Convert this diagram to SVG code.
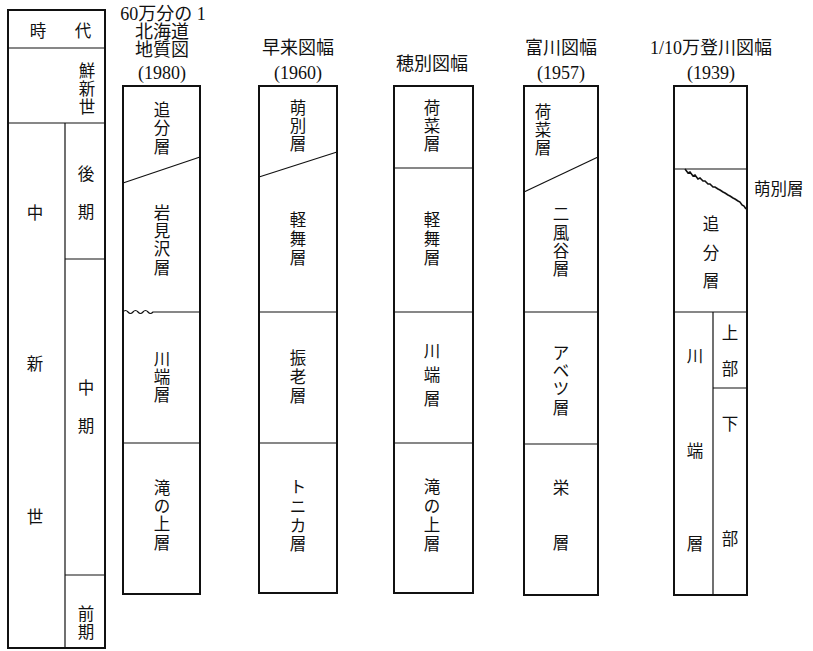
<svg xmlns="http://www.w3.org/2000/svg" width="813" height="651" viewBox="0 0 813 651">
<style>
.box{fill:none;stroke:#111;stroke-width:2}
.ln{fill:none;stroke:#111;stroke-width:1.2}
.jag{fill:none;stroke:#111;stroke-width:1.6}
.t{font-family:"Noto Sans CJK JP","Noto Sans CJK SC",sans-serif;font-size:16.5px;fill:#111;text-anchor:middle;dominant-baseline:central}
.h{font-family:"Liberation Serif","Noto Sans CJK JP",serif;font-size:18px;fill:#111;text-anchor:middle;dominant-baseline:central}
</style>
<rect width="813" height="651" fill="#fff"/>

<g id="era">
<rect class="box" x="8" y="10" width="97" height="638"/>
<line class="ln" x1="8" y1="48" x2="105" y2="48"/>
<line class="ln" x1="8" y1="123" x2="105" y2="123"/>
<line class="ln" x1="65" y1="123" x2="65" y2="648"/>
<line class="ln" x1="65" y1="259" x2="105" y2="259"/>
<line class="ln" x1="65" y1="575" x2="105" y2="575"/>
<text class="t"><tspan x="38" y="30">時</tspan><tspan x="83" y="30">代</tspan></text>
<text class="t"><tspan x="87" y="70">鮮</tspan><tspan x="87" y="88">新</tspan><tspan x="87" y="106">世</tspan></text>
<text class="t"><tspan x="86" y="173">後</tspan><tspan x="86" y="211">期</tspan></text>
<text class="t"><tspan x="35" y="212">中</tspan><tspan x="35" y="363">新</tspan><tspan x="35" y="516">世</tspan></text>
<text class="t"><tspan x="86" y="387">中</tspan><tspan x="86" y="425">期</tspan></text>
<text class="t"><tspan x="86" y="613">前</tspan><tspan x="86" y="631">期</tspan></text>
</g>

<g id="col1">
<text class="h"><tspan x="163" y="14">60万分の 1</tspan><tspan x="162" y="32">北海道</tspan><tspan x="162" y="50">地質図</tspan><tspan x="162" y="73">(1980)</tspan></text>
<rect class="box" x="123" y="86" width="77" height="508"/>
<line class="ln" x1="123" y1="183" x2="200" y2="157"/>
<path class="ln" d="M123,312 q2.5,-3 5,0 t5,0 t5,0 t5,0 t5,0 t5,0 L200,312"/>
<line class="ln" x1="123" y1="443" x2="200" y2="443"/>
<text class="t"><tspan x="162" y="109">追</tspan><tspan x="162" y="127">分</tspan><tspan x="162" y="146">層</tspan></text>
<text class="t"><tspan x="162" y="212">岩</tspan><tspan x="162" y="230">見</tspan><tspan x="162" y="248">沢</tspan><tspan x="162" y="267">層</tspan></text>
<text class="t"><tspan x="162" y="358">川</tspan><tspan x="162" y="376">端</tspan><tspan x="162" y="394">層</tspan></text>
<text class="t"><tspan x="162" y="487">滝</tspan><tspan x="162" y="505">の</tspan><tspan x="162" y="523">上</tspan><tspan x="162" y="542">層</tspan></text>
</g>

<g id="col2">
<text class="h"><tspan x="298" y="48">早来図幅</tspan><tspan x="298" y="73">(1960)</tspan></text>
<rect class="box" x="259" y="86" width="78" height="507"/>
<line class="ln" x1="259" y1="177" x2="337" y2="152"/>
<line class="ln" x1="259" y1="312" x2="337" y2="312"/>
<line class="ln" x1="259" y1="443" x2="337" y2="443"/>
<text class="t"><tspan x="298" y="107">萌</tspan><tspan x="298" y="125">別</tspan><tspan x="298" y="143">層</tspan></text>
<text class="t"><tspan x="298" y="219">軽</tspan><tspan x="298" y="238">舞</tspan><tspan x="298" y="257">層</tspan></text>
<text class="t"><tspan x="298" y="357">振</tspan><tspan x="298" y="376">老</tspan><tspan x="298" y="395">層</tspan></text>
<text class="t"><tspan x="298" y="486">ト</tspan><tspan x="298" y="506">ニ</tspan><tspan x="298" y="525">カ</tspan><tspan x="298" y="543">層</tspan></text>
</g>

<g id="col3">
<text class="h"><tspan x="432" y="64">穂別図幅</tspan></text>
<rect class="box" x="394" y="86" width="79" height="507"/>
<line class="ln" x1="394" y1="168" x2="473" y2="168"/>
<line class="ln" x1="394" y1="312" x2="473" y2="312"/>
<line class="ln" x1="394" y1="443" x2="473" y2="443"/>
<text class="t"><tspan x="432" y="107">荷</tspan><tspan x="432" y="125">菜</tspan><tspan x="432" y="143">層</tspan></text>
<text class="t"><tspan x="432" y="219">軽</tspan><tspan x="432" y="238">舞</tspan><tspan x="432" y="257">層</tspan></text>
<text class="t"><tspan x="432" y="350">川</tspan><tspan x="432" y="374">端</tspan><tspan x="432" y="398">層</tspan></text>
<text class="t"><tspan x="432" y="486">滝</tspan><tspan x="432" y="505">の</tspan><tspan x="432" y="524">上</tspan><tspan x="432" y="543">層</tspan></text>
</g>

<g id="col4">
<text class="h"><tspan x="561" y="48">富川図幅</tspan><tspan x="561" y="73">(1957)</tspan></text>
<rect class="box" x="524" y="86" width="74" height="509"/>
<line class="ln" x1="524" y1="192" x2="598" y2="157"/>
<line class="ln" x1="524" y1="312" x2="598" y2="312"/>
<line class="ln" x1="524" y1="444" x2="598" y2="444"/>
<text class="t"><tspan x="543" y="111">荷</tspan><tspan x="543" y="129">菜</tspan><tspan x="543" y="147">層</tspan></text>
<text class="t"><tspan x="561" y="213">二</tspan><tspan x="561" y="232">風</tspan><tspan x="561" y="250">谷</tspan><tspan x="561" y="268">層</tspan></text>
<text class="t"><tspan x="561" y="352">ア</tspan><tspan x="561" y="370">ベ</tspan><tspan x="561" y="388">ツ</tspan><tspan x="561" y="407">層</tspan></text>
<text class="t"><tspan x="561" y="487">栄</tspan><tspan x="561" y="542">層</tspan></text>
</g>

<g id="col5">
<text class="h"><tspan x="711" y="48">1/10万登川図幅</tspan><tspan x="711" y="73">(1939)</tspan></text>
<rect class="box" x="674" y="86" width="73" height="509"/>
<line class="ln" x1="674" y1="169" x2="747" y2="169"/>
<path class="jag" d="M685,169 l3,4 l2,-1 l3,4 l2,-1 l3,4 l2,-1 l3,3 l2,0 l3,3 l2,0 l3,3 l2,0 l3,2 l2,1 l3,2 l2,1 l3,2 l2,1 l3,2 l2,1 l3,2 l2,1 l2,3 l2,1 l2,3"/>
<line class="ln" x1="674" y1="312" x2="747" y2="312"/>
<line class="ln" x1="713" y1="312" x2="713" y2="595"/>
<line class="ln" x1="713" y1="388" x2="747" y2="388"/>
<text class="t"><tspan x="711" y="223">追</tspan><tspan x="711" y="252">分</tspan><tspan x="711" y="280">層</tspan></text>
<text class="t"><tspan x="695" y="355">川</tspan><tspan x="695" y="450">端</tspan><tspan x="695" y="543">層</tspan></text>
<text class="t"><tspan x="730" y="332">上</tspan><tspan x="730" y="368">部</tspan></text>
<text class="t"><tspan x="730" y="423">下</tspan><tspan x="730" y="538">部</tspan></text>
<text class="t" style="text-anchor:start"><tspan x="754" y="188">萌別層</tspan></text>
</g>
</svg>
